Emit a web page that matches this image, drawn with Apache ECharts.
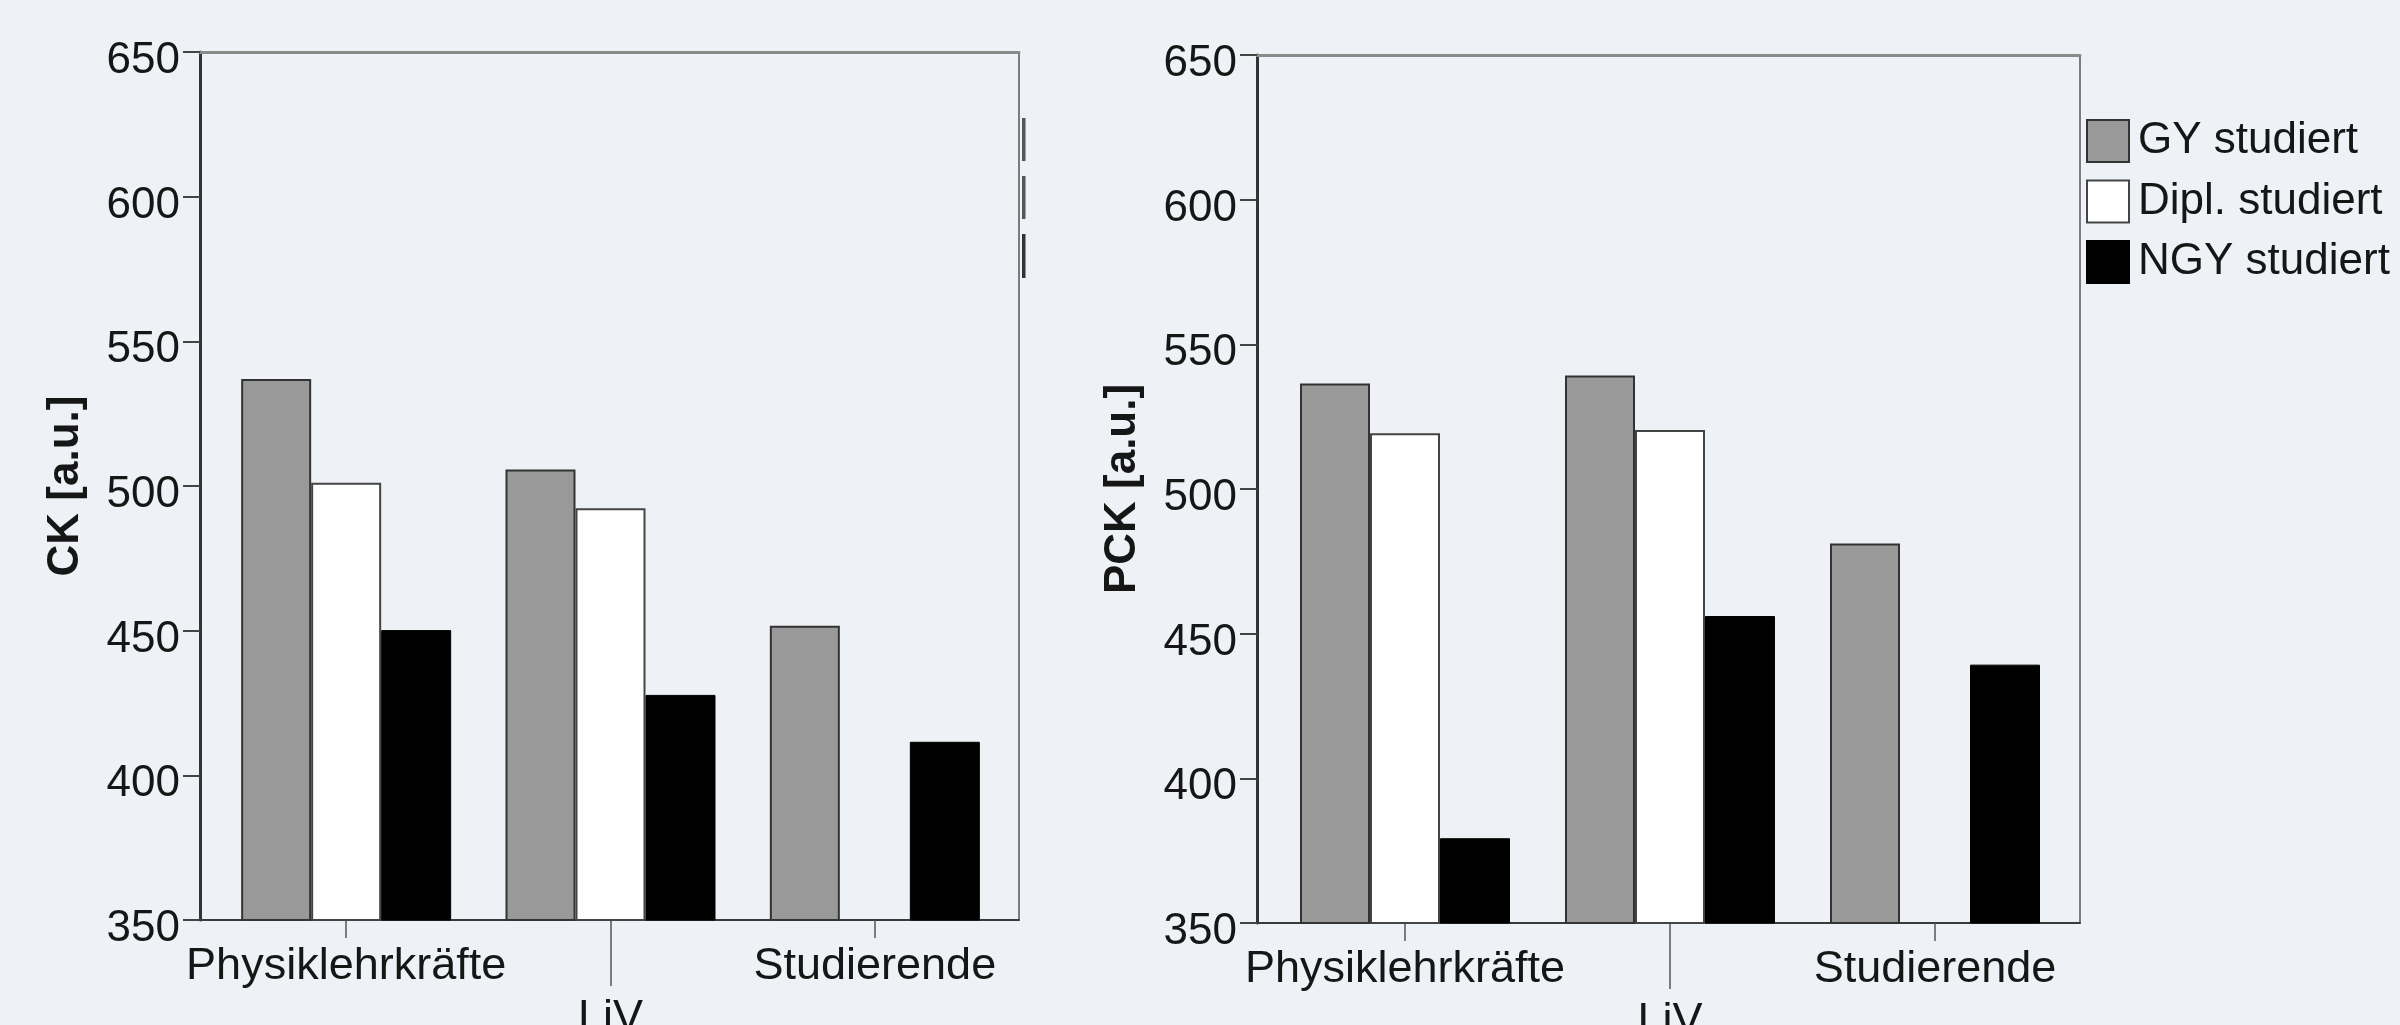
<!DOCTYPE html>
<html>
<head>
<meta charset="utf-8">
<script src="https://cdn.jsdelivr.net/npm/echarts@6/dist/echarts.min.js"></script>
<style>
  html, body { margin: 0; padding: 0; background: #eef2f6; }
  #chart { width: 2400px; height: 1025px; }
</style>
</head>
<body>
<div id="chart"></div>
<script>
// ---- data ----
const categories = ['Physiklehrkräfte', 'LiV', 'Studierende'];
const seriesNames = ['GY studiert', 'Dipl. studiert', 'NGY studiert'];
const ckGY   = [537.0, 505.7, 451.7];
const ckDipl = [501.1, 492.3, null];
const ckNGY  = [450.2, 427.8, 411.6];
const pckGY   = [536.5, 539.2, 481.2];
const pckDipl = [519.3, 520.4, null];
const pckNGY  = [379.3, 456.1, 439.3];
const yMin = 350, yMax = 650, yStep = 50;
const yNames = ['CK [a.u.]', 'PCK [a.u.]'];

// ---- style ----
const FONT = "'Liberation Sans', Arial, Helvetica, sans-serif";
const TXT = '#161616';
const barStyles = [
  { color: '#999999', borderColor: '#333333', borderWidth: 2 },
  { color: '#ffffff', borderColor: '#444444', borderWidth: 2 },
  { color: '#000000', borderColor: '#000000', borderWidth: 1 }
];

const chart = echarts.init(document.getElementById('chart'), null, { renderer: 'canvas' });

const frames = [
  { left: 200, top: 52, width: 819, height: 868 },
  { left: 1257, top: 55, width: 823, height: 868 }
];
const dataGrids = [
  { left: 214, top: 52, width: 793, height: 868 },
  { left: 1272.5, top: 55, width: 795, height: 868 }
];

const grid = [];
const xAxis = [];
const yAxis = [];
const series = [];

[0, 1].forEach(function (c) {
  const fg = grid.length;
  grid.push(Object.assign({ show: false, containLabel: false, outerBoundsMode: 'none' }, frames[c]));
  const dg = grid.length;
  grid.push(Object.assign({ show: false, containLabel: false, outerBoundsMode: 'none' }, dataGrids[c]));

  // frame: bottom line
  xAxis.push({
    gridIndex: fg, type: 'value', position: 'bottom', min: 0, max: 1,
    axisLine: { show: true, onZero: false, lineStyle: { color: '#3a3a3a', width: 2 } },
    axisTick: { show: false }, axisLabel: { show: false }, splitLine: { show: false }
  });
  // frame: top line
  xAxis.push({
    gridIndex: fg, type: 'value', position: 'top', min: 0, max: 1,
    axisLine: { show: true, onZero: false, lineStyle: { color: '#8a8a8a', width: 3 } },
    axisTick: { show: false }, axisLabel: { show: false }, splitLine: { show: false }
  });
  // data axis A: Physiklehrkräfte & Studierende
  const xa = xAxis.length;
  xAxis.push({
    gridIndex: dg, type: 'category', position: 'bottom', offset: 0, data: categories,
    boundaryGap: true,
    axisLine: { show: false },
    axisTick: { show: true, alignWithLabel: true, length: 18, interval: function (i) { return i !== 1; },
      lineStyle: { color: '#555555', width: 1.5 } },
    axisLabel: { show: true, interval: function (i) { return i !== 1; }, margin: 24,
      fontSize: 45, fontFamily: FONT, color: TXT },
    splitLine: { show: false }
  });
  // data axis B: LiV (staggered)
  xAxis.push({
    gridIndex: dg, type: 'category', position: 'bottom', offset: 0, data: categories,
    boundaryGap: true,
    axisLine: { show: false },
    axisTick: { show: true, alignWithLabel: true, length: 66, interval: function (i) { return i === 1; },
      lineStyle: { color: '#555555', width: 1.5 } },
    axisLabel: { show: true, interval: function (i) { return i === 1; }, margin: 76,
      fontSize: 45, fontFamily: FONT, color: TXT },
    splitLine: { show: false }
  });

  // frame: left value axis
  yAxis.push({
    gridIndex: fg, type: 'value', position: 'left', min: yMin, max: yMax, interval: yStep,
    name: yNames[c], nameLocation: 'middle', nameGap: 112, nameMoveOverlap: false,
    nameTextStyle: { fontSize: 44, fontWeight: 'bold', fontFamily: FONT, color: TXT },
    axisLine: { show: true, lineStyle: { color: '#333333', width: 3 } },
    axisTick: { show: true, inside: false, length: 17, lineStyle: { color: '#444444', width: 2 } },
    axisLabel: { show: true, margin: 20, fontSize: 44, fontFamily: FONT, color: TXT,
      verticalAlign: 'top', lineHeight: 18 },
    splitLine: { show: false }
  });
  // frame: right line
  yAxis.push({
    gridIndex: fg, type: 'value', position: 'right', min: 0, max: 1,
    axisLine: { show: true, onZero: false, lineStyle: { color: '#555555', width: 1.5 } },
    axisTick: { show: false }, axisLabel: { show: false }, splitLine: { show: false }
  });
  // data value axis (hidden)
  const ya = yAxis.length;
  yAxis.push({
    gridIndex: dg, type: 'value', min: yMin, max: yMax, interval: yStep, show: false,
    splitLine: { show: false }
  });

  const vals = c === 0 ? [ckGY, ckDipl, ckNGY] : [pckGY, pckDipl, pckNGY];
  vals.forEach(function (v, k) {
    series.push({
      type: 'bar', name: seriesNames[k], xAxisIndex: xa, yAxisIndex: ya,
      data: v, barWidth: 70, barGap: '0%',
      itemStyle: barStyles[k],
      emphasis: { disabled: true },
      animation: false
    });
  });
});

const option = {
  backgroundColor: '#eef2f6',
  animation: false,
  textStyle: { fontFamily: FONT },
  grid: grid,
  xAxis: xAxis,
  yAxis: yAxis,
  series: series,
  legend: {
    data: seriesNames,
    orient: 'vertical',
    left: 2086, top: 119,
    padding: 0,
    itemWidth: 42, itemHeight: 42, itemGap: 16.5,
    icon: 'rect',
    selectedMode: false,
    textStyle: { fontSize: 44, fontFamily: FONT, color: TXT, lineHeight: 42, padding: [0, 0, 0, 4] }
  },
  graphic: [
    { type: 'rect', shape: { x: 1022, y: 118, width: 3.5, height: 43 }, style: { fill: '#555555' }, silent: true },
    { type: 'rect', shape: { x: 1022, y: 176, width: 3.5, height: 43 }, style: { fill: '#555555' }, silent: true },
    { type: 'rect', shape: { x: 1022, y: 234, width: 3.5, height: 44 }, style: { fill: '#333333' }, silent: true }
  ]
};

chart.setOption(option);
</script>
</body>
</html>
